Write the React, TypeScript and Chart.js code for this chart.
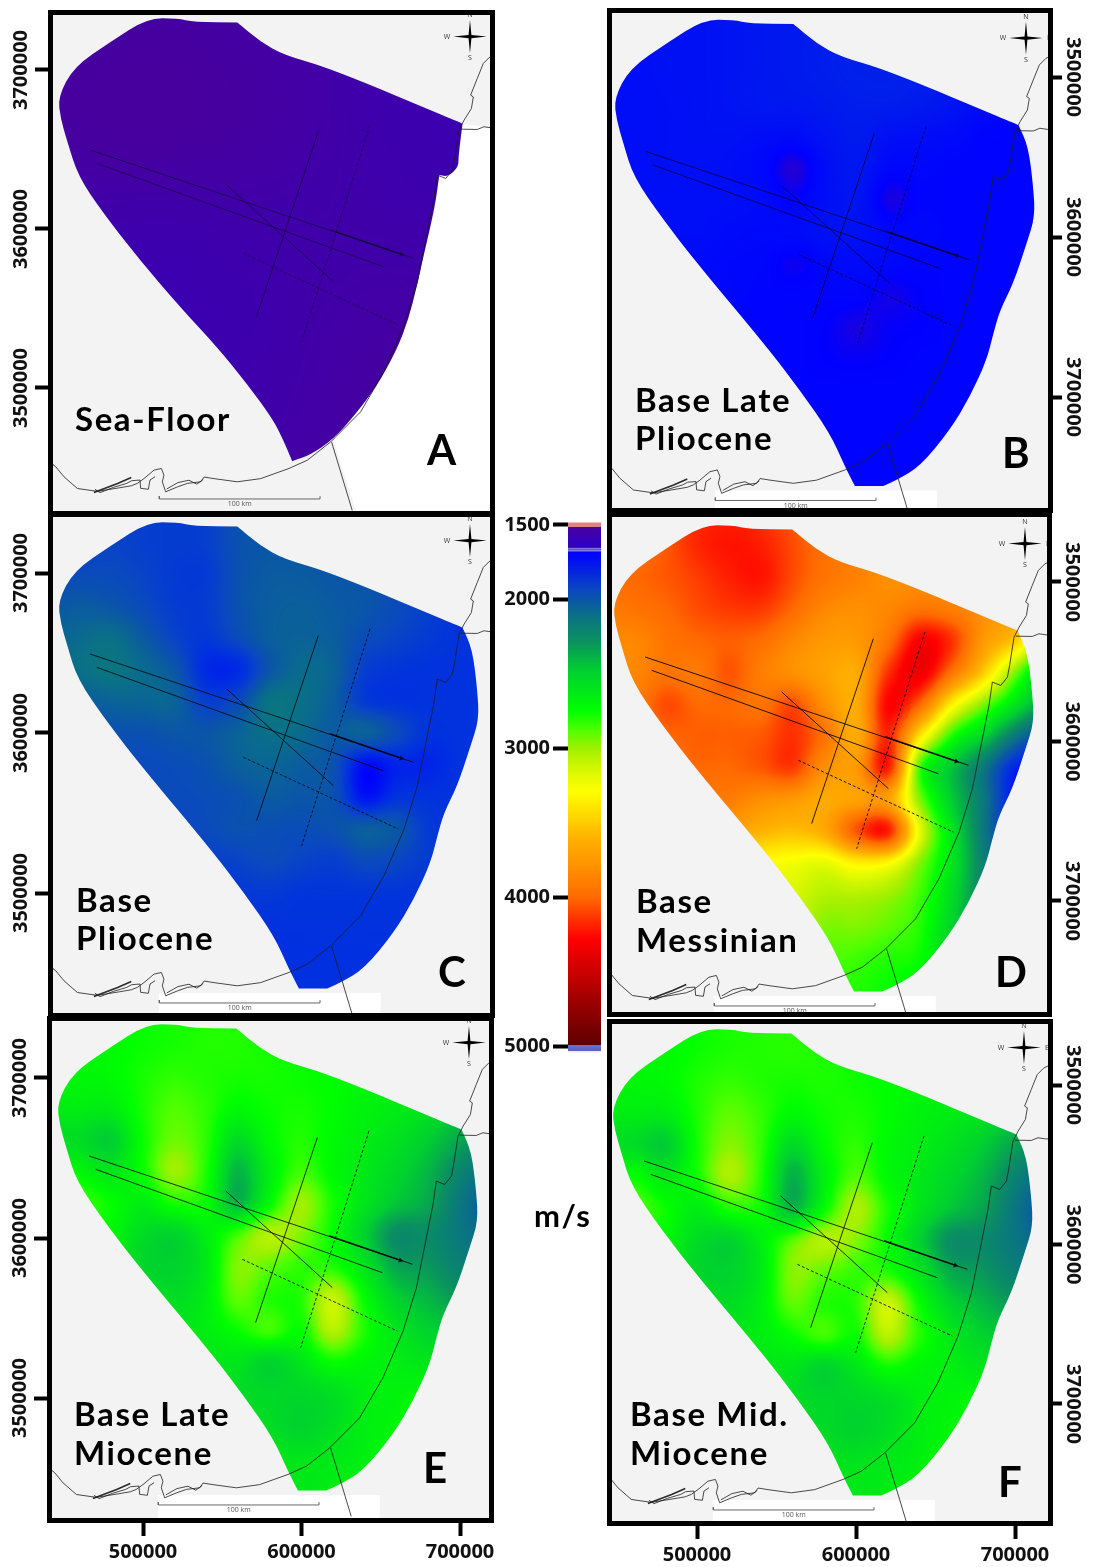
import React, { useEffect, useRef } from "react";
import { Chart, registerables } from "chart.js";

Chart.register(...registerables);

// ---------- data (easting / northing in km, velocities in m/s) ----------
const outlineWest: number[][] = [
  [598.4, 3439.3], [598.3, 3439.4], [592.1, 3451.5], [582.7, 3472.4], [563.7, 3499.6], [542.7, 3526.9], [500.6, 3577.2],
  [477.5, 3606.6], [458.6, 3633.9], [452.3, 3654.8], [448, 3669.5], [446.4, 3683.1], [456.5, 3702],
  [479.6, 3717.7], [502.7, 3732.5], [521.7, 3732.5], [532.2, 3730], [559.5, 3730], [559.6, 3729.9], [574.2, 3717.7],
  [589, 3709.3], [618.4, 3701], [701.5, 3666.4], [701.6, 3666.3],
];
const outlineEast: number[][] = [
  [707.8, 3652.7], [710.9, 3627.6], [712, 3608.7], [706.7, 3591.9], [698.3, 3566.7], [689.9, 3550],
  [685.7, 3535.3], [681.5, 3518.5], [671, 3495.5], [658.4, 3474.5], [639.4, 3451.5], [624.7, 3443], [616.3, 3439.3], [616.2, 3439.3],
];
const outlineSeaFloor: number[][] = [
  [594.2, 3453.9], [594.1, 3454], [588.5, 3467.3], [582.2, 3479.9], [565.4, 3503], [546.5, 3526], [523.3, 3551], [498, 3580.5],
  [475, 3609.9], [459.2, 3633], [452.3, 3654.8], [448, 3669.5], [446.4, 3683.1], [456.5, 3702],
  [479.6, 3717.7], [502.7, 3732.5], [521.7, 3732.5], [532.2, 3730], [559.5, 3730], [559.6, 3729.9], [574.2, 3717.7],
  [589, 3709.3], [618.4, 3701], [701.5, 3666.4], [701.6, 3666.3], [699, 3645.5], [699, 3639], [692.6, 3632.9], [687, 3634], [686.9, 3633.8],
  [684.2, 3614], [676.9, 3582.6], [672.7, 3563.7], [667.4, 3542.8], [660, 3523.9], [647.4, 3500.8],
  [632.7, 3482], [620, 3467.7], [605.4, 3457.9],
];
const landSeaFloor: number[][] = [
  [701.5, 3666.4], [699, 3645.5], [699, 3639], [692.6, 3632.9], [687, 3634], [684.2, 3614], [676.9, 3582.6],
  [672.7, 3563.7], [667.4, 3542.8], [660, 3523.9], [647.4, 3500.8], [632.7, 3482], [620, 3467.7], [634.4, 3423],
  [730, 3423], [730, 3662],
];
const scaleBox: number[][] = [[510, 3436.5], [650, 3436.5], [650, 3415], [510, 3415]];
const coastMain: number[][] = [
  [699.4, 3662.2], [696.6, 3644.3], [695.2, 3637], [691, 3631.8], [685.7, 3633.9], [683.6, 3619.2], [679.4, 3598.2],
  [673.1, 3566.7], [664.7, 3539.5], [652, 3510.2], [637.3, 3485], [618.4, 3466.1], [603.7, 3454.6], [592.1, 3449.4],
  [574.2, 3443], [559.5, 3441], [544.8, 3443], [538.5, 3444], [536.4, 3441], [528, 3440], [521.7, 3437.8],
  [514.3, 3434.7], [512.2, 3441], [513.2, 3445.2], [511.6, 3449.4], [506.9, 3448.3], [500.6, 3443], [496.4, 3440],
  [492.6, 3438.5], [484.9, 3437.2], [471.2, 3435], [458.6, 3436.8], [450.2, 3444.1], [445, 3450.4], [438, 3456],
];
const coastNorth: number[][] = [
  [699.4, 3662.2], [702.6, 3668.5], [707.2, 3675.8], [708.4, 3683.1], [706.7, 3684.2], [710.9, 3694.7], [714.7, 3704.1], [718.9, 3708.3], [725, 3711],
];
const coastBranch: number[][] = [[700.4, 3662.8], [710.9, 3662.6], [715.1, 3664.3], [719.8, 3663.6], [726, 3663.6]];
const coastSpit: number[][] = [[492.6, 3443.7], [484, 3440], [469, 3434.3]];
const coastIsles: number[][] = [
  [469.7, 3436.3], [472.9, 3434.2], [481.3, 3437.5], [489.7, 3440], [492.8, 3441.7], [498.1, 3442.1], [498.5, 3436.9],
  [503.4, 3436.3], [504.4, 3442.1], [507.6, 3444.2],
];
const coastShoal: number[][] = [[515, 3436.5], [522, 3440.5], [529, 3442], [534, 3439.5], [538, 3442.5]];
const southBorder: number[][] = [[619, 3466], [632, 3423]];
const scaleBar: number[][] = [[510.3, 3432], [510.3, 3430.2], [611.7, 3430.2], [611.7, 3432]];
const lineNorth1: number[][] = [[466.6, 3649.7], [670.6, 3581.6]];
const lineNorth1Heavy: number[][] = [[618, 3599.5], [662, 3584.4]];
const lineNorth2: number[][] = [[470.8, 3641.3], [651.6, 3576.3]];
const lineDiagonal: number[][] = [[552.8, 3627.7], [620.1, 3566.9]];
const lineCross1: number[][] = [[610.6, 3661.2], [571.7, 3544.9]];
const lineCross2: number[][] = [[643.2, 3665.4], [600.1, 3529.1]];
const lineDashed: number[][] = [[563.3, 3584.7], [661.1, 3539.6]];
const arrowPoint: number[][] = [[663, 3584]];
const compass: number[][] = [
  [706.3, 3731.5], [707.2, 3722], [716.8, 3721], [707.2, 3720], [706.3, 3710.5], [705.4, 3720], [695.8, 3721], [705.4, 3722],
];

const gridX = [440, 460, 480, 500, 520, 540, 560, 580, 600, 620, 640, 660, 680, 700, 720];
const gridY = [3740, 3720, 3700, 3680, 3660, 3640, 3620, 3600, 3580, 3560, 3540, 3520, 3500, 3480, 3460, 3440];

const coarseX = [440, 510, 580, 650, 720];
const coarseY = [3740, 3665, 3590, 3515, 3440];
const seaFloorVel = [
  [1530, 1530, 1540, 1560, 1570],
  [1525, 1520, 1535, 1565, 1580],
  [1560, 1570, 1560, 1555, 1565],
  [1570, 1580, 1560, 1530, 1530],
  [1560, 1560, 1545, 1525, 1525],
];
const lateMiddlePlioVel = [
  [1730, 1730, 1740, 1740, 1750, 1760, 1770, 1780, 1790, 1780, 1770, 1750, 1730, 1720, 1720],
  [1730, 1730, 1740, 1740, 1750, 1760, 1770, 1780, 1790, 1780, 1770, 1750, 1730, 1720, 1720],
  [1730, 1730, 1740, 1740, 1750, 1760, 1770, 1780, 1790, 1790, 1780, 1760, 1730, 1720, 1720],
  [1730, 1730, 1735, 1740, 1750, 1760, 1760, 1770, 1780, 1780, 1770, 1750, 1720, 1710, 1710],
  [1730, 1730, 1735, 1740, 1740, 1730, 1725, 1750, 1770, 1740, 1730, 1720, 1700, 1700, 1700],
  [1730, 1730, 1735, 1735, 1730, 1710, 1660, 1730, 1760, 1710, 1710, 1700, 1700, 1700, 1700],
  [1730, 1730, 1730, 1730, 1730, 1720, 1690, 1730, 1750, 1670, 1700, 1700, 1700, 1700, 1700],
  [1730, 1730, 1730, 1730, 1720, 1715, 1720, 1740, 1740, 1710, 1710, 1700, 1700, 1700, 1700],
  [1730, 1730, 1720, 1720, 1710, 1705, 1680, 1710, 1720, 1710, 1700, 1700, 1700, 1700, 1700],
  [1730, 1730, 1720, 1710, 1710, 1700, 1700, 1700, 1700, 1675, 1690, 1700, 1700, 1700, 1700],
  [1730, 1720, 1710, 1710, 1700, 1700, 1700, 1690, 1670, 1685, 1690, 1700, 1700, 1700, 1700],
  [1730, 1720, 1710, 1700, 1700, 1700, 1700, 1690, 1685, 1690, 1700, 1700, 1700, 1700, 1700],
  [1720, 1720, 1710, 1700, 1700, 1700, 1700, 1700, 1700, 1700, 1700, 1700, 1700, 1700, 1700],
  [1720, 1720, 1710, 1700, 1700, 1700, 1700, 1700, 1700, 1700, 1700, 1700, 1700, 1700, 1700],
  [1720, 1720, 1710, 1700, 1700, 1700, 1700, 1700, 1700, 1700, 1700, 1700, 1700, 1700, 1700],
  [1720, 1720, 1710, 1700, 1700, 1700, 1700, 1700, 1700, 1700, 1700, 1700, 1700, 1700, 1700],
];
const pliocVel = [
  [1900, 1900, 1920, 1900, 1890, 1900, 1980, 2000, 2000, 1980, 1950, 1900, 1870, 1850, 1850],
  [1900, 1900, 1920, 1900, 1890, 1900, 1980, 2000, 2000, 1980, 1950, 1900, 1870, 1850, 1850],
  [1950, 1950, 1950, 1920, 1880, 1880, 1980, 2020, 2020, 2000, 1980, 1950, 1900, 1850, 1850],
  [2000, 2020, 2000, 1950, 1890, 1890, 1980, 2030, 2040, 2020, 2000, 1950, 1900, 1850, 1850],
  [2050, 2080, 2100, 2020, 1920, 1870, 1950, 2030, 2050, 2030, 1960, 1920, 1880, 1850, 1850],
  [2050, 2100, 2130, 2080, 2000, 1820, 1820, 2000, 2080, 2050, 1900, 1860, 1850, 1850, 1850],
  [2000, 2020, 2050, 2060, 2050, 1900, 1950, 2120, 2100, 2030, 1880, 1850, 1850, 1850, 1850],
  [1980, 1980, 1980, 1980, 2000, 2000, 2050, 2100, 2080, 2020, 2050, 1950, 1850, 1850, 1850],
  [1950, 1950, 1950, 1950, 1960, 1980, 2040, 2060, 2030, 1980, 1730, 1800, 1800, 1850, 1850],
  [1950, 1950, 1950, 1950, 1950, 1960, 1980, 2020, 2000, 1980, 1750, 1850, 1850, 1850, 1850],
  [1950, 1930, 1930, 1930, 1920, 1950, 1980, 1970, 1960, 1980, 2030, 2000, 1880, 1850, 1850],
  [1900, 1900, 1900, 1900, 1900, 1900, 1920, 1950, 1920, 1900, 1950, 1930, 1880, 1860, 1850],
  [1880, 1880, 1880, 1880, 1860, 1860, 1870, 1880, 1860, 1860, 1860, 1860, 1850, 1850, 1850],
  [1860, 1860, 1860, 1860, 1850, 1850, 1850, 1850, 1850, 1850, 1850, 1850, 1850, 1850, 1850],
  [1850, 1850, 1850, 1850, 1840, 1840, 1840, 1840, 1840, 1840, 1840, 1840, 1840, 1840, 1840],
  [1850, 1850, 1850, 1850, 1840, 1840, 1840, 1840, 1840, 1840, 1840, 1840, 1840, 1840, 1840],
];
const messinianVel = [
  [3950, 3950, 4050, 4150, 4200, 4150, 4050, 3900, 3850, 3800, 3800, 3800, 3800, 3800, 3800],
  [3950, 3950, 4050, 4180, 4230, 4200, 4080, 3950, 3850, 3800, 3800, 3800, 3800, 3800, 3800],
  [3950, 4000, 4050, 4120, 4200, 4230, 4080, 3950, 3880, 3800, 3800, 3820, 3800, 3750, 3700],
  [3900, 3950, 4000, 4080, 4130, 4130, 4000, 3850, 3800, 3850, 3950, 3900, 3800, 3700, 3650],
  [3850, 3850, 3950, 4000, 4030, 3980, 3850, 3750, 3750, 3950, 4300, 4150, 3750, 3500, 3000],
  [3800, 3850, 3950, 3920, 4060, 3900, 3800, 3700, 3650, 4150, 4350, 3950, 3500, 2950, 2500],
  [3800, 3900, 4080, 4000, 4000, 3950, 4080, 3800, 3650, 4280, 4000, 3350, 2950, 2600, 2300],
  [3900, 3900, 4000, 4030, 4030, 4050, 4150, 3950, 3650, 4180, 3400, 2800, 2500, 2150, 1900],
  [3900, 3900, 3950, 4000, 4000, 4050, 4120, 3800, 3750, 4200, 2850, 2450, 2150, 1800, 1700],
  [3900, 3900, 3900, 3900, 3900, 3800, 3750, 3650, 3700, 3700, 2950, 2480, 2150, 1750, 1650],
  [3750, 3750, 3750, 3750, 3700, 3600, 3550, 3650, 4050, 4200, 3200, 2600, 2150, 1800, 1700],
  [3500, 3450, 3400, 3400, 3400, 3300, 3250, 3200, 3350, 3300, 2950, 2600, 2200, 1950, 1900],
  [3300, 3300, 3250, 3250, 3200, 3200, 3150, 3050, 3050, 3000, 2850, 2550, 2200, 2000, 1900],
  [3200, 3200, 3150, 3150, 3100, 3100, 3100, 2950, 2950, 2900, 2800, 2500, 2200, 2000, 1900],
  [3100, 3100, 3100, 3050, 3050, 3000, 3000, 2900, 2850, 2800, 2750, 2450, 2200, 2000, 1900],
  [3000, 3000, 3000, 3000, 2950, 2950, 2900, 2850, 2800, 2750, 2650, 2500, 2200, 2000, 1900],
];
const lateMioVel = [
  [2700, 2700, 2720, 2760, 2780, 2800, 2800, 2780, 2760, 2740, 2700, 2680, 2640, 2600, 2600],
  [2700, 2700, 2720, 2760, 2780, 2800, 2800, 2780, 2760, 2740, 2700, 2680, 2640, 2600, 2600],
  [2680, 2700, 2720, 2780, 2820, 2800, 2780, 2780, 2760, 2740, 2700, 2660, 2620, 2550, 2500],
  [2640, 2650, 2650, 2780, 2880, 2820, 2720, 2760, 2780, 2740, 2680, 2640, 2580, 2450, 2350],
  [2550, 2550, 2480, 2750, 2920, 2820, 2550, 2720, 2800, 2720, 2650, 2580, 2480, 2350, 2250],
  [2650, 2700, 2600, 2750, 3000, 2800, 2400, 2650, 2850, 2720, 2620, 2520, 2400, 2220, 2100],
  [2800, 2850, 2750, 2650, 2780, 2750, 2400, 2720, 3000, 2780, 2600, 2450, 2350, 2150, 2000],
  [2750, 2750, 2700, 2550, 2500, 2650, 2850, 3050, 2950, 2750, 2500, 2250, 2250, 2150, 2050],
  [2750, 2700, 2650, 2520, 2500, 2620, 2950, 2900, 2820, 2800, 2600, 2350, 2300, 2200, 2150],
  [2700, 2700, 2650, 2600, 2550, 2650, 2900, 2800, 2800, 3100, 2750, 2500, 2400, 2300, 2250],
  [2700, 2650, 2650, 2620, 2600, 2650, 2750, 2850, 2750, 3050, 2800, 2600, 2500, 2450, 2400],
  [2650, 2650, 2640, 2620, 2600, 2600, 2600, 2500, 2600, 2750, 2700, 2650, 2600, 2550, 2500],
  [2600, 2600, 2600, 2600, 2600, 2600, 2550, 2530, 2520, 2560, 2650, 2680, 2700, 2650, 2600],
  [2600, 2600, 2600, 2600, 2580, 2580, 2560, 2550, 2500, 2560, 2650, 2700, 2700, 2650, 2600],
  [2600, 2600, 2600, 2600, 2600, 2600, 2600, 2600, 2600, 2620, 2660, 2700, 2700, 2650, 2600],
  [2600, 2600, 2600, 2600, 2600, 2600, 2600, 2620, 2620, 2640, 2660, 2700, 2700, 2650, 2600],
];
const midMioVel = [
  [2700, 2700, 2720, 2760, 2780, 2800, 2800, 2780, 2770, 2740, 2700, 2680, 2640, 2600, 2600],
  [2700, 2700, 2720, 2760, 2790, 2800, 2810, 2790, 2770, 2740, 2700, 2680, 2640, 2600, 2600],
  [2680, 2700, 2720, 2790, 2830, 2800, 2780, 2790, 2770, 2740, 2700, 2660, 2620, 2550, 2500],
  [2640, 2650, 2650, 2790, 2900, 2830, 2720, 2770, 2790, 2740, 2680, 2640, 2580, 2450, 2350],
  [2560, 2550, 2470, 2770, 2960, 2830, 2540, 2730, 2820, 2720, 2650, 2580, 2480, 2340, 2240],
  [2660, 2750, 2620, 2770, 3030, 2810, 2380, 2660, 2880, 2720, 2620, 2520, 2400, 2210, 2080],
  [2800, 2880, 2760, 2650, 2790, 2760, 2400, 2730, 3030, 2790, 2600, 2450, 2340, 2140, 1990],
  [2750, 2750, 2700, 2550, 2500, 2660, 2880, 3050, 2960, 2750, 2500, 2260, 2240, 2140, 2040],
  [2750, 2700, 2650, 2520, 2500, 2630, 2960, 2900, 2830, 2800, 2600, 2360, 2300, 2190, 2140],
  [2700, 2700, 2650, 2600, 2550, 2660, 2900, 2800, 2810, 3120, 2760, 2510, 2400, 2300, 2250],
  [2700, 2650, 2650, 2620, 2600, 2650, 2750, 2850, 2760, 3060, 2810, 2620, 2500, 2450, 2400],
  [2650, 2650, 2640, 2620, 2600, 2600, 2600, 2500, 2610, 2760, 2700, 2660, 2600, 2550, 2500],
  [2600, 2600, 2600, 2600, 2600, 2600, 2550, 2520, 2520, 2560, 2650, 2690, 2700, 2650, 2600],
  [2600, 2600, 2600, 2600, 2580, 2580, 2560, 2540, 2500, 2560, 2650, 2700, 2700, 2650, 2600],
  [2600, 2600, 2600, 2600, 2600, 2600, 2600, 2590, 2590, 2620, 2660, 2700, 2700, 2650, 2600],
  [2600, 2600, 2600, 2600, 2600, 2600, 2600, 2610, 2620, 2640, 2660, 2700, 2700, 2650, 2600],
];

// colour ramp of the velocity bar
const rampValues = [1400, 1520, 1650, 1690, 1840, 1940, 2000, 2100, 2275, 2480, 2746, 2880, 3000, 3150, 3290, 3450, 3610, 3800, 4000, 4150, 4280, 4690, 4960, 5100];
const rampColors = ["#47009e", "#47009e", "#2c00c8", "#0000ff", "#0030e0", "#0a48c0", "#0a55a8", "#0a6f88", "#0a9060", "#00d030", "#00ff00", "#50ff00", "#a0f000", "#d8f800", "#ffff00", "#ffd800", "#ffb000", "#ff9000", "#ff6a00", "#ff3000", "#ff0000", "#a00000", "#600000", "#500000"];
const barRange = [1485, 5050];
const barBandValues = [1485, 1515, 1516, 1650, 1660, 1668, 1672, 1680, 1681, 1940, 2000, 2100, 2275, 2480, 2746, 2880, 3000, 3150, 3290, 3450, 3610, 3800, 4000, 4150, 4280, 4690, 4990, 4995, 5030, 5035, 5050];
const barBandColors = ["#e08080", "#e08080", "#47009e", "#2c00c8", "#a090e8", "#3020c8", "#a090e8", "#3020e0", "#0000ff", "#0a48c0", "#0a55a8", "#0a6f88", "#0a9060", "#00d030", "#00ff00", "#50ff00", "#a0f000", "#d8f800", "#ffff00", "#ffd800", "#ffb000", "#ff9000", "#ff6a00", "#ff3000", "#ff0000", "#a00000", "#600000", "#6a70c8", "#5a60c0", "#e8e8f0", "#ffffff"];
const barTicks = [1500, 2000, 3000, 4000, 5000];
const eastTicks = [500, 600, 700];
const northTicks = [3500, 3600, 3700];
const unitLabel = "m/s";

// ---------- panel layout ----------
type Panel = {
  id: string; titles: string[]; letter: string; canvas: number[]; inner: number[]; dx: number; dy: number;
  xs: number[]; ys: number[]; vel: number[][]; outline: number[][]; land?: number[][];
  side: "left" | "right"; axisY: number[]; axisX?: number[]; titleX: number; titleY: number[]; letterX: number; letterY: number; lineAlpha: number;
};
const fullOutline = [...outlineWest, ...outlineEast];
const panels: Panel[] = [
  { id: "A", titles: ["Sea-Floor"], letter: "A", canvas: [0, 0, 505, 518], inner: [53, 15, 490, 511], dx: 0, dy: 0, xs: coarseX, ys: coarseY, vel: seaFloorVel, outline: outlineSeaFloor, land: landSeaFloor, side: "left", axisY: [70, 388], titleX: 75, titleY: [431], letterX: 427, letterY: 465, lineAlpha: 0.45 },
  { id: "B", titles: ["Base Late", "Pliocene"], letter: "B", canvas: [595, 0, 502, 518], inner: [612, 13, 1048, 508], dx: 556, dy: 1.5, xs: gridX, ys: gridY, vel: lateMiddlePlioVel, outline: fullOutline, side: "right", axisY: [77, 397], titleX: 635, titleY: [412, 450], letterX: 1002, letterY: 468, lineAlpha: 0.6 },
  { id: "C", titles: ["Base", "Pliocene"], letter: "C", canvas: [0, 508, 505, 515], inner: [53, 517, 490, 1013], dx: 0, dy: 504, xs: gridX, ys: gridY, vel: pliocVel, outline: fullOutline, side: "left", axisY: [573, 893], titleX: 76, titleY: [912, 950], letterX: 438, letterY: 987, lineAlpha: 0.75 },
  { id: "D", titles: ["Base", "Messinian"], letter: "D", canvas: [595, 508, 502, 515], inner: [612, 517, 1047, 1012], dx: 555, dy: 507, xs: gridX, ys: gridY, vel: messinianVel, outline: fullOutline, side: "right", axisY: [582, 901], titleX: 636, titleY: [913, 952], letterX: 995, letterY: 987, lineAlpha: 0.85 },
  { id: "E", titles: ["Base Late", "Miocene"], letter: "E", canvas: [0, 1012, 505, 555], inner: [52, 1021, 489, 1518], dx: -1, dy: 1006, xs: gridX, ys: gridY, vel: lateMioVel, outline: fullOutline, side: "left", axisY: [1078, 1398], axisX: [143, 460], titleX: 74, titleY: [1426, 1465], letterX: 423, letterY: 1483, lineAlpha: 0.8 },
  { id: "F", titles: ["Base Mid.", "Miocene"], letter: "F", canvas: [595, 1012, 502, 555], inner: [612, 1024, 1048, 1521], dx: 554, dy: 1011, xs: gridX, ys: gridY, vel: midMioVel, outline: fullOutline, side: "right", axisY: [1085, 1404], axisX: [697, 1015], titleX: 630, titleY: [1426, 1465], letterX: 998, letterY: 1497, lineAlpha: 0.8 },
];

const AXIS_FONT = { family: "'Open Sans'", size: 20, weight: "bold" as const };
const TITLE_FONT = "bold 33px Lato";
const LETTER_FONT = "bold 42px Lato";

function hexRgb(h: string) {
  return [parseInt(h.slice(1, 3), 16), parseInt(h.slice(3, 5), 16), parseInt(h.slice(5, 7), 16)];
}
const rampRgb = rampColors.map(hexRgb);
function colorOf(v: number) {
  if (v <= rampValues[0]) return rampRgb[0];
  for (let i = 1; i < rampValues.length; i++) {
    if (v <= rampValues[i]) {
      const t = (v - rampValues[i - 1]) / (rampValues[i] - rampValues[i - 1]);
      const a = rampRgb[i - 1];
      const b = rampRgb[i];
      return [a[0] + (b[0] - a[0]) * t, a[1] + (b[1] - a[1]) * t, a[2] + (b[2] - a[2]) * t];
    }
  }
  return rampRgb[rampRgb.length - 1];
}
function cubic(p0: number, p1: number, p2: number, p3: number, t: number) {
  return p1 + 0.5 * t * (p2 - p0 + t * (2 * p0 - 5 * p1 + 4 * p2 - p3 + t * (3 * (p1 - p2) + p3 - p0)));
}
function sample(p: Panel, x: number, y: number) {
  const nx = p.xs.length;
  const ny = p.ys.length;
  const u = Math.min(nx - 1.0001, Math.max(0, (x - p.xs[0]) / (p.xs[1] - p.xs[0])));
  const w = Math.min(ny - 1.0001, Math.max(0, (y - p.ys[0]) / (p.ys[1] - p.ys[0])));
  const i = Math.floor(u);
  const j = Math.floor(w);
  const cl = (a: number, n: number) => Math.max(0, Math.min(n - 1, a));
  const rows: number[] = [];
  for (let r = -1; r <= 2; r++) {
    const row = p.vel[cl(j + r, ny)];
    rows.push(cubic(row[cl(i - 1, nx)], row[i], row[cl(i + 1, nx)], row[cl(i + 2, nx)], u - i));
  }
  return cubic(rows[0], rows[1], rows[2], rows[3], w - j);
}

function tracePoly(ctx: CanvasRenderingContext2D, chart: any, pts: number[][], smooth = false) {
  const q = pts.map((k) => [chart.scales.x.getPixelForValue(k[0]), chart.scales.y.getPixelForValue(k[1])]);
  ctx.beginPath();
  if (smooth) {
    const n = q.length;
    ctx.moveTo((q[n - 1][0] + q[0][0]) / 2, (q[n - 1][1] + q[0][1]) / 2);
    for (let i = 0; i < n; i++) {
      const b = q[(i + 1) % n];
      ctx.quadraticCurveTo(q[i][0], q[i][1], (q[i][0] + b[0]) / 2, (q[i][1] + b[1]) / 2);
    }
  } else {
    q.forEach((k, i) => (i === 0 ? ctx.moveTo(k[0], k[1]) : ctx.lineTo(k[0], k[1])));
  }
  ctx.closePath();
}

function mapPlugin(p: Panel) {
  return {
    id: "map" + p.id,
    beforeDatasetsDraw(chart: any) {
      const { ctx, chartArea: a, scales } = chart;
      ctx.save();
      ctx.fillStyle = "#f3f3f3";
      ctx.fillRect(a.left, a.top, a.right - a.left, a.bottom - a.top);
      ctx.beginPath();
      ctx.rect(a.left, a.top, a.right - a.left, a.bottom - a.top);
      ctx.clip();
      ctx.fillStyle = "#ffffff";
      if (p.land) {
        tracePoly(ctx, chart, p.land);
        ctx.fill();
      } else {
        tracePoly(ctx, chart, scaleBox);
        ctx.fill();
      }
      const w = Math.round(a.right - a.left);
      const h = Math.round(a.bottom - a.top);
      const off = document.createElement("canvas");
      off.width = w;
      off.height = h;
      const oc = off.getContext("2d")!;
      const img = oc.createImageData(w, h);
      for (let py = 0; py < h; py++) {
        const yv = scales.y.getValueForPixel(a.top + py + 0.5);
        for (let px = 0; px < w; px++) {
          const xv = scales.x.getValueForPixel(a.left + px + 0.5);
          const c = colorOf(sample(p, xv, yv));
          const o = (py * w + px) * 4;
          img.data[o] = c[0];
          img.data[o + 1] = c[1];
          img.data[o + 2] = c[2];
          img.data[o + 3] = 255;
        }
      }
      oc.putImageData(img, 0, 0);
      tracePoly(ctx, chart, p.outline, true);
      ctx.clip();
      ctx.drawImage(off, a.left, a.top);
      ctx.restore();
    },
    afterDatasetsDraw(chart: any) {
      const { ctx, scales } = chart;
      ctx.save();
      ctx.fillStyle = "#000";
      tracePoly(ctx, chart, compass);
      ctx.fill();
      ctx.fillStyle = "#333";
      ctx.font = "7px 'Open Sans'";
      ctx.textAlign = "center";
      ctx.textBaseline = "middle";
      const cx = 706.3;
      const cy = 3721;
      const marks: [string, number, number][] = [["N", cx, cy + 13.5], ["S", cx, cy - 13.5], ["W", cx - 14.5, cy], ["E", cx + 14.5, cy]];
      marks.forEach(([t, x, y]) => ctx.fillText(t, scales.x.getPixelForValue(x), scales.y.getPixelForValue(y)));
      ctx.fillStyle = "#555";
      ctx.fillText("100 km", scales.x.getPixelForValue(561), scales.y.getPixelForValue(3427));
      ctx.restore();
    },
    afterDraw(chart: any) {
      const { ctx, chartArea: a } = chart;
      ctx.save();
      ctx.strokeStyle = "#000";
      ctx.lineWidth = 5;
      ctx.strokeRect(a.left - 2.5, a.top - 2.5, a.right - a.left + 5, a.bottom - a.top + 5);
      ctx.fillStyle = "#000";
      ctx.textAlign = "left";
      ctx.textBaseline = "alphabetic";
      ctx.font = TITLE_FONT;
      (ctx as any).letterSpacing = "1.6px";
      const ox = p.canvas[0];
      const oy = p.canvas[1];
      p.titles.forEach((t, k) => ctx.fillText(t, p.titleX - ox, p.titleY[k] - oy));
      (ctx as any).letterSpacing = "0px";
      ctx.font = LETTER_FONT;
      ctx.fillText(p.letter, p.letterX - ox, p.letterY - oy);
      ctx.restore();
    },
  };
}

function toPts(a: number[][]) {
  return a.map((q) => ({ x: q[0], y: q[1] }));
}
function lineSet(label: string, pts: number[][], color: string, width: number, dash: number[] = []) {
  return {
    label, data: toPts(pts), showLine: true, borderColor: color, borderWidth: width, borderDash: dash,
    pointRadius: 0, fill: false, tension: 0, xAxisID: "x", yAxisID: "y",
  };
}
const fixWidth = (n: number) => (s: any) => { s.width = n; };
const fixHeight = (n: number) => (s: any) => { s.height = n; };

function buildConfig(p: Panel) {
  const [cx, cy, cw, ch] = p.canvas;
  const [L, T, R, B] = p.inner;
  const xAt = (px: number) => 500 + (px - 143 - p.dx) / 1.585;
  const yAt = (py: number) => 3700 - (py - 70 - p.dy) / 1.59;
  const ink = `rgba(0,0,0,${p.lineAlpha})`;
  const grey = "rgba(30,30,30,0.8)";
  const isLeft = p.side === "left";
  const [a1, a2] = p.axisY;
  const perPx = 200 / (a2 - a1);
  const axisAt = (py: number) => (isLeft ? 3700 - (py - a1) * perPx : 3500 + (py - a1) * perPx);
  const marginL = L - cx;
  const marginR = cx + cw - R;
  const marginB = cy + ch - B;
  const scales: any = {
    x: { type: "linear", display: false, min: xAt(L), max: xAt(R) },
    y: { type: "linear", display: false, min: yAt(B), max: yAt(T) },
    y2: {
      type: "linear", position: isLeft ? "left" : "right", reverse: !isLeft,
      min: isLeft ? axisAt(B) : axisAt(T), max: isLeft ? axisAt(T) : axisAt(B),
      afterFit: fixWidth(isLeft ? marginL : marginR),
      afterBuildTicks: (s: any) => { s.ticks = northTicks.map((v) => ({ value: v })); },
      border: { display: false },
      grid: { drawOnChartArea: false, drawTicks: true, tickLength: isLeft ? 18 : 14, tickWidth: 4, tickColor: "#000", color: "#000" },
      ticks: {
        font: AXIS_FONT, color: "#111", crossAlign: "center", minRotation: isLeft ? 90 : -90, maxRotation: isLeft ? 90 : -90,
        autoSkip: false, padding: isLeft ? -26 : -29,
        callback: (v: number) => String(v * 1000),
      },
    },
  };
  if (p.axisX) {
    const [b1, b2] = p.axisX;
    const per = 200 / (b2 - b1);
    scales.x2 = {
      type: "linear", position: "bottom", min: 500 + (L - b1) * per, max: 500 + (R - b1) * per,
      afterFit: fixHeight(marginB),
      afterBuildTicks: (s: any) => { s.ticks = eastTicks.map((v) => ({ value: v })); },
      border: { display: false },
      grid: { drawOnChartArea: false, drawTicks: true, tickLength: 18, tickWidth: 4, tickColor: "#000", color: "#000" },
      ticks: { font: AXIS_FONT, color: "#111", autoSkip: false, maxRotation: 0, padding: 4, callback: (v: number) => String(v * 1000) },
    };
  }
  return {
    type: "scatter" as const,
    data: {
      datasets: [
        lineSet("West coast", coastMain, grey, 1),
        lineSet("North coast", coastNorth, grey, 1),
        lineSet("Branch", coastBranch, grey, 1),
        lineSet("Spit", coastSpit, "rgba(20,20,20,0.9)", 1.6),
        lineSet("Isles", coastIsles, grey, 1),
        lineSet("Shoal", coastShoal, grey, 1),
        lineSet("Border", southBorder, grey, 1),
        lineSet("Scale bar", scaleBar, "#666", 1),
        lineSet("Line 1", lineNorth1, ink, 1),
        lineSet("Line 1 heavy", lineNorth1Heavy, ink, 1.6),
        lineSet("Line 2", lineNorth2, ink, 1),
        lineSet("Diagonal", lineDiagonal, ink, 1),
        lineSet("Cross 1", lineCross1, ink, 1),
        lineSet("Cross 2", lineCross2, ink, 1, [3, 2]),
        lineSet("Dashed", lineDashed, ink, 1, [3, 2]),
        {
          label: "Arrow", data: toPts(arrowPoint), showLine: false, pointStyle: "triangle", pointRadius: 3, rotation: 108,
          pointBackgroundColor: ink, pointBorderWidth: 0, xAxisID: "x", yAxisID: "y",
        },
      ],
    },
    options: {
      responsive: false, animation: false as const, events: [],
      layout: { padding: { left: isLeft ? 0 : marginL, top: T - cy, right: isLeft ? marginR : 0, bottom: p.axisX ? 0 : marginB } },
      plugins: { legend: { display: false }, tooltip: { enabled: false } },
      scales,
    },
    plugins: [mapPlugin(p)],
  };
}

function buildBarConfig() {
  const top = 518;
  const bottom = 1056;
  const per = 3500 / (1046 - 525);
  const vAt = (py: number) => 1500 + (py - 525) * per;
  const canvasTop = 495;
  const pyAt = (v: number) => 525 + (v - 1500) / per - canvasTop;
  return {
    type: "bar" as const,
    data: {
      labels: ["velocity"],
      datasets: [
        {
          label: "Velocity (m/s)",
          data: [barRange],
          barPercentage: 1,
          categoryPercentage: 1,
          backgroundColor: (c: any) => {
            const g = c.chart.ctx.createLinearGradient(0, pyAt(barRange[0]), 0, pyAt(barRange[1]));
            barBandValues.forEach((v, i) => g.addColorStop((v - barRange[0]) / (barRange[1] - barRange[0]), barBandColors[i]));
            return g;
          },
        },
      ],
    },
    options: {
      responsive: false, animation: false as const, events: [],
      layout: { padding: { left: 0, right: 6, top: top - canvasTop, bottom: 1250 - bottom } },
      plugins: { legend: { display: false }, tooltip: { enabled: false } },
      scales: {
        x: { display: false },
        y: {
          type: "linear", reverse: true, min: vAt(top), max: vAt(bottom), afterFit: fixWidth(73),
          afterBuildTicks: (s: any) => { s.ticks = barTicks.map((v) => ({ value: v })); },
          border: { display: false },
          grid: { drawOnChartArea: false, drawTicks: true, tickLength: 15, tickWidth: 4, tickColor: "#000", color: "#000" },
          ticks: { font: AXIS_FONT, color: "#111", autoSkip: false, padding: 3, callback: (v: number) => String(v) },
        },
      },
    },
    plugins: [
      {
        id: "unit",
        afterDraw(chart: any) {
          const ctx = chart.ctx;
          ctx.save();
          ctx.fillStyle = "#000";
          ctx.font = "bold 31px Lato";
          (ctx as any).letterSpacing = "1.5px";
          ctx.textAlign = "left";
          ctx.fillText(unitLabel, 534 - 495, 1227 - canvasTop);
          ctx.restore();
        },
      },
    ],
  };
}

function ChartCanvas({ build, box }: { build: () => any; box: number[] }) {
  const ref = useRef<HTMLCanvasElement>(null);
  useEffect(() => {
    const chart = new Chart(ref.current!, build());
    return () => chart.destroy();
  }, []);
  return <canvas ref={ref} width={box[2]} height={box[3]} style={{ position: "absolute", left: box[0], top: box[1], width: box[2], height: box[3] }} />;
}

export default function App() {
  return (
    <div style={{ position: "absolute", left: 0, top: 0, width: 1097, height: 1567, background: "#fff", overflow: "hidden" }}>
      {panels.map((p) => (
        <ChartCanvas key={p.id} box={p.canvas} build={() => buildConfig(p)} />
      ))}
      <ChartCanvas box={[495, 495, 112, 755]} build={buildBarConfig} />
    </div>
  );
}
